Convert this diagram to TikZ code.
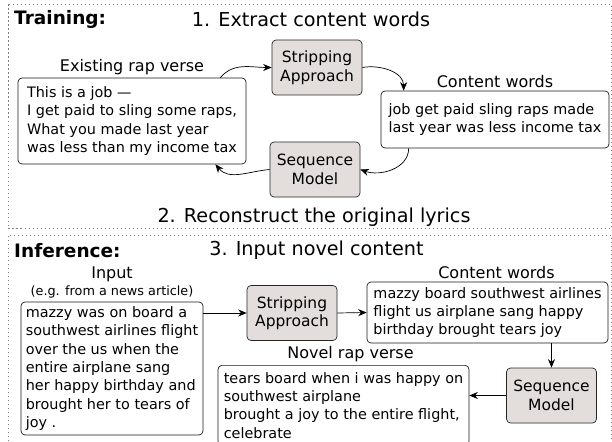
\documentclass[tikz,border=0pt]{standalone}
\usepackage{fontspec}
\setmainfont{DejaVu Sans}
\usetikzlibrary{positioning,arrows.meta}

\definecolor{boxgray}{HTML}{E3DEDB}

\tikzset{
  procbox/.style={draw=black!85, fill=boxgray, rounded corners=4pt, align=center,
    minimum width=90pt, minimum height=55pt, line width=0.7pt,
    font=\fontsize{15.5}{18.5}\selectfont},
  textbox/.style={draw=black!90, rounded corners=4pt, align=left, line width=0.7pt,
    font=\fontsize{14.4}{18.3}\selectfont},
  tag/.style={inner sep=2pt, font=\fontsize{16}{19}\selectfont},
  note/.style={inner sep=2pt, font=\fontsize{12.8}{15}\selectfont},
  heading/.style={inner sep=0pt, font=\fontsize{19.2}{23}\selectfont},
  phase/.style={inner sep=0pt, font=\fontsize{18.5}{22}\selectfont\bfseries},
  frame/.style={gray, line width=0.8pt, dash pattern=on 1.2pt off 2.8pt},
  flow/.style={-{Stealth[length=8.5pt,width=7pt]}, line width=0.7pt}
}

\begin{document}
\begin{tikzpicture}[x=1pt, y=1pt, node distance=1pt]
\useasboundingbox (0,0) rectangle (612,-441);

% dotted frames
\draw[frame] (8,-4.5) rectangle (611.5,-228);
\draw[frame] (8,-441) -- (8,-235) -- (611.5,-235) -- (611.5,-441);

% training
\node (train)[phase, anchor=base west] at (14,-25) {Training:};
\node (step1)[heading, anchor=base] at (311,-27) {1. Extract content words};
\node (rap)[textbox, minimum width=228pt, minimum height=86pt] at (132,-121)
  {This is a job ---\\I get paid to sling some raps,\\What you made last year\\was less than my income tax};
\node (rapl)[tag] [above =of rap] {Existing rap verse};
\node (strip1)[procbox] at (317,-67.5) {Stripping\\Approach};
\node (cw1)[textbox, minimum width=228pt, minimum height=57pt] at (495,-119.5)
  {job get paid sling raps made\\last year was less income tax};
\node (cw1l)[tag] [above =of cw1] {Content words};
\node (seq1)[procbox] at (315,-169.5) {Sequence\\Model};
\node (step2)[heading, anchor=base] at (314,-222) {2. Reconstruct the original lyrics};

\path[flow] ([xshift=-26pt]rap.north east) edge[out=50, in=180] (strip1.west)
            (strip1.east) edge[out=10, in=90] ([xshift=23pt]cw1.north west)
            ([xshift=28pt]cw1.south west) edge[out=-90, in=-20] (seq1.east)
            (seq1.west) edge[out=185, in=-50] ([xshift=-31pt]rap.south east);

% inference
\node (infer)[phase, anchor=base west] at (14,-257) {Inference:};
\node (step3)[heading, anchor=base] at (316.5,-255) {3. Input novel content};
\node (inp)[textbox, minimum width=182pt, minimum height=133pt] at (112,-368.5)
  {mazzy was on board a\\southwest airlines flight\\over the us when the\\entire airplane sang\\her happy birthday and\\brought her to tears of\\joy .};
\node (src)[note] [above =of inp] {(e.g. from a news article)};
\node (inpl)[tag] [above =0pt of src] {Input};
\node (strip2)[procbox] at (292,-313) {Stripping\\Approach};
\node (cw2)[textbox, minimum width=241pt, minimum height=61pt] at (487.5,-312.5)
  {mazzy board southwest airlines\\flight us airplane sang happy\\birthday brought tears joy};
\node (cw2l)[tag] [above =of cw2, xshift=9pt] {Content words};
\node (seq2)[procbox] at (551.5,-395.5) {Sequence\\Model};
\node (novel)[textbox, minimum width=251pt, minimum height=80pt, anchor=north] at (343.5,-365)
  {tears board when i was happy on\\southwest airplane\\brought a joy to the entire flight,\\celebrate};
\node (novell)[tag] [above =of novel, xshift=7pt] {Novel rap verse};

\path[flow] (inp.east |- strip2.west) edge (strip2.west)
            (strip2.east) edge (cw2.west)
            (seq2.north |- cw2.south) edge (seq2.north)
            (seq2.west) edge (seq2.west -| novel.east);
\end{tikzpicture}
\end{document}
